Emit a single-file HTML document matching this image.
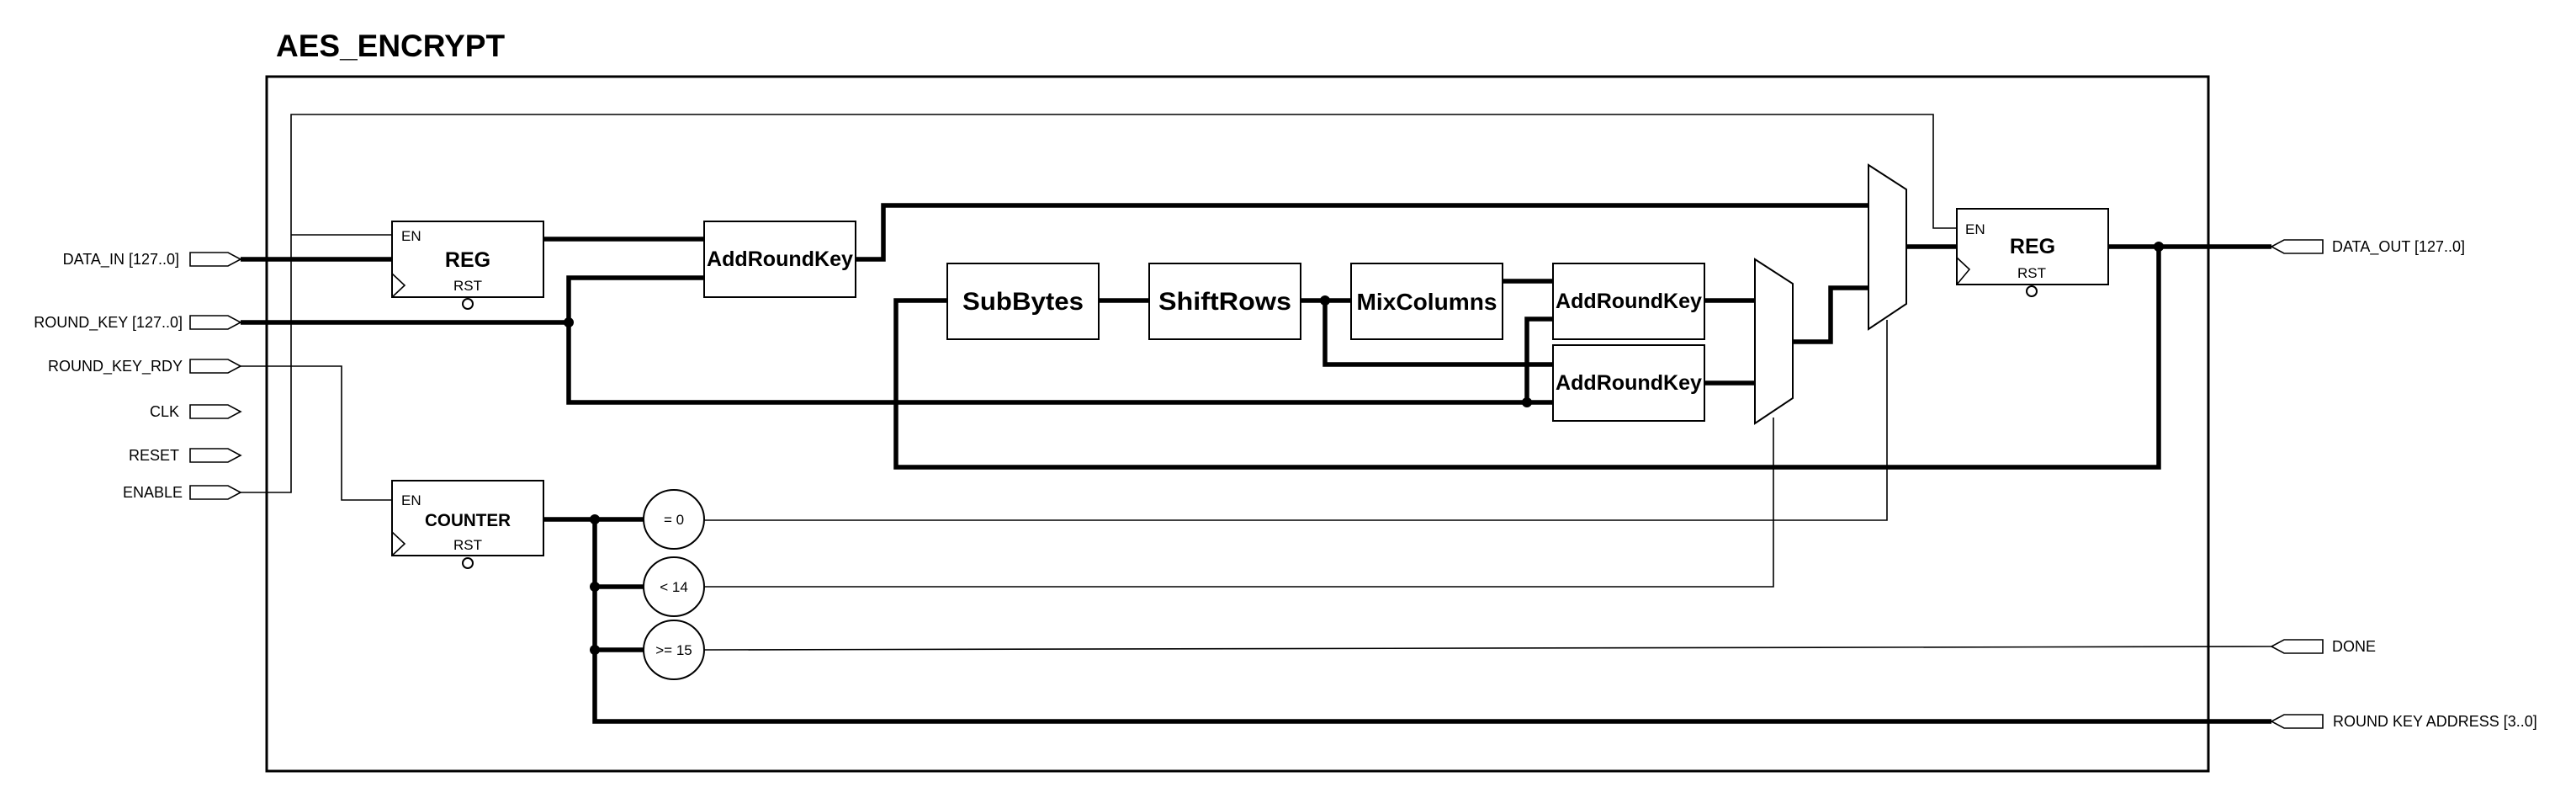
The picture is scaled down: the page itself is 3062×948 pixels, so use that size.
<!DOCTYPE html>
<html><head><meta charset="utf-8"><style>
html,body{margin:0;padding:0;background:#fff;}
svg{display:block;}
text{font-family:"Liberation Sans",Arial,sans-serif;fill:#000;}
</style></head><body>
<svg width="3062" height="948" viewBox="0 0 3062 948" xmlns="http://www.w3.org/2000/svg">
<g fill="none" stroke="#000">
<rect x="317" y="91" width="2308" height="825" stroke-width="3"/>
<g stroke-width="1.6">
<polyline points="286,585 346,585 346,136 2298,136 2298,271 2326,271"/>
<polyline points="346,279 466,279"/>
<polyline points="286,435 406,435 406,594 466,594"/>
<polyline points="837,618 2243,618 2243,380"/>
<polyline points="837,697 2108,697 2108,496"/>
<polyline points="837,772 2700,768"/>
</g>
<g stroke-width="5.5">
<polyline points="286,308 466,308"/>
<polyline points="646,284 837,284"/>
<polyline points="286,383 676,383"/>
<polyline points="837,330 676,330 676,478 1846,478"/>
<polyline points="1815,478 1815,379 1846,379"/>
<polyline points="1017,308 1050,308 1050,244 2221,244"/>
<polyline points="1126,357 1065,357 1065,555 2566,555 2566,293"/>
<polyline points="1305,357 1366,357"/>
<polyline points="1546,357 1606,357"/>
<polyline points="1575,357 1575,433 1846,433"/>
<polyline points="1786,334 1846,334"/>
<polyline points="2026,357 2086,357"/>
<polyline points="2026,455 2086,455"/>
<polyline points="2131,406 2176,406 2176,342 2221,342"/>
<polyline points="2266,293 2326,293"/>
<polyline points="2506,293 2700,293"/>
<polyline points="646,617 765,617"/>
<polyline points="707,617 707,857 2700,857"/>
<polyline points="707,697 765,697"/>
<polyline points="707,772 765,772"/>
</g>
<g stroke-width="2" fill="#fff">
<rect x="466" y="263" width="180" height="90"/>
<rect x="837" y="263" width="180" height="90"/>
<rect x="1126" y="313" width="180" height="90"/>
<rect x="1366" y="313" width="180" height="90"/>
<rect x="1606" y="313" width="180" height="90"/>
<rect x="1846" y="313" width="180" height="90"/>
<rect x="1846" y="410" width="180" height="90"/>
<rect x="2326" y="248" width="180" height="90"/>
<rect x="466" y="571" width="180" height="89"/>
<polygon points="2086,308 2131,337 2131,473 2086,503"/>
<polygon points="2221,196 2266,225 2266,361 2221,391"/>
<ellipse cx="801" cy="617" rx="36" ry="35"/>
<ellipse cx="801" cy="697" rx="36" ry="35"/>
<ellipse cx="801" cy="772" rx="36" ry="35"/>
<circle cx="556" cy="361" r="6"/>
<circle cx="556" cy="669" r="6"/>
<circle cx="2415" cy="346" r="6"/>
</g>
<g stroke-width="1.6">
<polyline points="466,325 481,339 466,353"/>
<polyline points="466,632 481,646 466,660"/>
<polyline points="2326,306 2341,320 2326,338"/>
</g>
<g stroke-width="1.6" fill="#fff">
<polygon points="226,300 271,300 286,308 271,316 226,316"/>
<polygon points="226,375 271,375 286,383 271,391 226,391"/>
<polygon points="226,427 271,427 286,435 271,443 226,443"/>
<polygon points="226,481 271,481 286,489 271,497 226,497"/>
<polygon points="226,533 271,533 286,541 271,549 226,549"/>
<polygon points="226,577 271,577 286,585 271,593 226,593"/>
<polygon points="2761,285 2715,285 2700,293 2715,301 2761,301"/>
<polygon points="2761,760 2715,760 2700,768 2715,776 2761,776"/>
<polygon points="2761,849 2715,849 2700,857 2715,865 2761,865"/>
</g>
</g>
<g fill="#000">
<circle cx="676" cy="383" r="6"/>
<circle cx="1575" cy="357" r="6"/>
<circle cx="1815" cy="478" r="6"/>
<circle cx="2566" cy="293" r="6"/>
<circle cx="707" cy="617" r="6"/>
<circle cx="707" cy="697" r="6"/>
<circle cx="707" cy="772" r="6"/>
</g>
<text x="328" y="67" font-size="37" font-weight="bold">AES_ENCRYPT</text>
<g font-size="18" text-anchor="end">
<text x="213" y="314">DATA_IN [127..0]</text>
<text x="217" y="389">ROUND_KEY [127..0]</text>
<text x="217" y="441">ROUND_KEY_RDY</text>
<text x="213" y="495">CLK</text>
<text x="213" y="547">RESET</text>
<text x="217" y="591">ENABLE</text>
</g>
<g font-size="18">
<text x="2772" y="299">DATA_OUT [127..0]</text>
<text x="2772" y="774">DONE</text>
<text x="2773" y="863">ROUND KEY ADDRESS [3..0]</text>
</g>
<g font-size="17">
<text x="477" y="286">EN</text>
<text x="477" y="600">EN</text>
<text x="2336" y="278">EN</text>
</g>
<g font-size="17" text-anchor="middle">
<text x="556" y="345">RST</text>
<text x="556" y="653">RST</text>
<text x="2415" y="330">RST</text>
<text x="801" y="623">= 0</text>
<text x="801" y="703">&lt; 14</text>
<text x="801" y="778">&gt;= 15</text>
</g>
<g font-weight="bold" text-anchor="middle">
<text x="556" y="317" font-size="25">REG</text>
<text x="2416" y="301" font-size="25">REG</text>
<text x="556" y="625" font-size="21" textLength="102" lengthAdjust="spacingAndGlyphs">COUNTER</text>
<text x="927" y="316" font-size="25" textLength="174" lengthAdjust="spacingAndGlyphs">AddRoundKey</text>
<text x="1936" y="366" font-size="25" textLength="174" lengthAdjust="spacingAndGlyphs">AddRoundKey</text>
<text x="1936" y="463" font-size="25" textLength="174" lengthAdjust="spacingAndGlyphs">AddRoundKey</text>
<text x="1216" y="368" font-size="30" textLength="144" lengthAdjust="spacingAndGlyphs">SubBytes</text>
<text x="1456" y="368" font-size="30" textLength="158" lengthAdjust="spacingAndGlyphs">ShiftRows</text>
<text x="1696" y="368" font-size="28" textLength="167" lengthAdjust="spacingAndGlyphs">MixColumns</text>
</g>
</svg>
</body></html>
